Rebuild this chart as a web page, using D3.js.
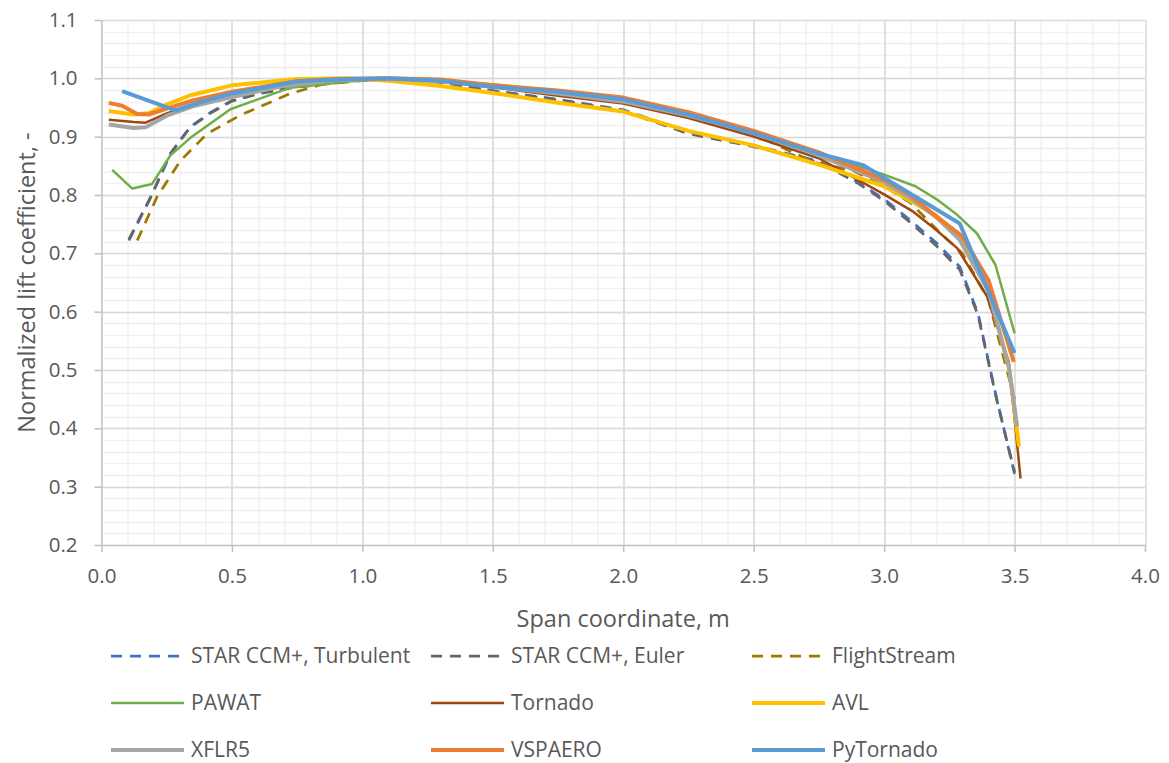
<!DOCTYPE html>
<html>
<head>
<meta charset="utf-8">
<script src="https://cdn.jsdelivr.net/npm/d3@7"></script>
<style>
  body { margin: 0; background: #ffffff; }
  text { font-family: "Open Sans", "Noto Sans", sans-serif; fill: #595959; }
</style>
</head>
<body>
<div id="chart"></div>
<script>
// series names, in drawing order
var seriesNames = ["STAR CCM+, Turbulent", "STAR CCM+, Euler", "FlightStream",
  "PAWAT", "Tornado", "AVL", "XFLR5", "VSPAERO", "PyTornado"];

// span coordinate (m) and normalized lift coefficient per series
var starTurbX = [0.105, 0.19, 0.265, 0.34, 0.42, 0.5, 0.6, 0.72, 0.85, 1.0, 1.15, 1.3, 1.5, 1.75, 2.0, 2.25, 2.5, 2.75, 2.9, 3.0, 3.1, 3.2, 3.29, 3.36, 3.43, 3.5];
var starTurbY = [0.722, 0.797, 0.871, 0.917, 0.942, 0.962, 0.974, 0.984, 0.991, 0.997, 0.998, 0.994, 0.979, 0.964, 0.946, 0.908, 0.885, 0.858, 0.822, 0.793, 0.757, 0.718, 0.677, 0.597, 0.454, 0.322];
var starEulerX = [0.105, 0.19, 0.265, 0.34, 0.42, 0.5, 0.6, 0.72, 0.85, 1.0, 1.15, 1.3, 1.5, 1.75, 2.0, 2.25, 2.5, 2.75, 2.9, 3.0, 3.1, 3.2, 3.29, 3.36, 3.43, 3.5];
var starEulerY = [0.724, 0.798, 0.872, 0.916, 0.941, 0.961, 0.973, 0.983, 0.99, 0.996, 0.997, 0.993, 0.978, 0.963, 0.944, 0.905, 0.883, 0.856, 0.82, 0.79, 0.753, 0.713, 0.672, 0.594, 0.452, 0.325];
var flightX = [0.137, 0.213, 0.303, 0.405, 0.533, 0.724, 0.85, 1.0, 1.2, 1.5, 1.75, 2.0, 2.25, 2.5, 2.73, 2.88, 3.0, 3.1, 3.21, 3.3, 3.4, 3.5];
var flightY = [0.722, 0.797, 0.859, 0.905, 0.937, 0.974, 0.99, 0.997, 0.998, 0.988, 0.975, 0.958, 0.935, 0.905, 0.856, 0.842, 0.815, 0.787, 0.737, 0.7, 0.62, 0.45];
var pawatX = [0.041, 0.118, 0.194, 0.264, 0.341, 0.494, 0.724, 1.0, 1.25, 1.5, 1.75, 2.0, 2.25, 2.5, 2.75, 3.0, 3.12, 3.2, 3.28, 3.356, 3.427, 3.5];
var pawatY = [0.843, 0.811, 0.819, 0.868, 0.898, 0.947, 0.984, 0.997, 0.997, 0.99, 0.978, 0.963, 0.94, 0.908, 0.872, 0.835, 0.815, 0.793, 0.766, 0.734, 0.68, 0.563];
var tornadoX = [0.028, 0.124, 0.169, 0.25, 0.35, 0.5, 0.7, 0.9, 1.1, 1.3, 1.5, 1.75, 2.0, 2.25, 2.5, 2.75, 3.0, 3.113, 3.2, 3.28, 3.395, 3.478, 3.523];
var tornadoY = [0.929, 0.925, 0.924, 0.94, 0.955, 0.972, 0.99, 0.997, 0.999, 0.995, 0.985, 0.97, 0.957, 0.932, 0.9, 0.863, 0.801, 0.771, 0.74, 0.709, 0.626, 0.514, 0.314];
var avlX = [0.028, 0.124, 0.18, 0.25, 0.341, 0.5, 0.75, 0.95, 1.1, 1.3, 1.5, 1.75, 2.0, 2.25, 2.5, 2.75, 3.0, 3.1, 3.2, 3.29, 3.4, 3.48, 3.517];
var avlY = [0.944, 0.938, 0.94, 0.955, 0.971, 0.988, 0.999, 1.0, 0.996, 0.987, 0.975, 0.958, 0.943, 0.91, 0.885, 0.852, 0.815, 0.79, 0.765, 0.729, 0.64, 0.5, 0.369];
var xflrX = [0.028, 0.124, 0.169, 0.25, 0.35, 0.5, 0.7, 0.9, 1.1, 1.3, 1.5, 1.75, 2.0, 2.25, 2.5, 2.75, 3.0, 3.1, 3.2, 3.29, 3.4, 3.478, 3.51];
var xflrY = [0.921, 0.915, 0.916, 0.936, 0.952, 0.968, 0.987, 0.997, 0.999, 0.995, 0.986, 0.974, 0.96, 0.936, 0.906, 0.868, 0.822, 0.795, 0.762, 0.723, 0.635, 0.506, 0.403];
var vspaeroX = [0.028, 0.079, 0.137, 0.181, 0.25, 0.35, 0.5, 0.75, 0.9, 1.1, 1.3, 1.5, 1.75, 2.0, 2.25, 2.5, 2.75, 3.0, 3.1, 3.2, 3.3, 3.4, 3.497];
var vspaeroY = [0.958, 0.953, 0.939, 0.938, 0.948, 0.962, 0.977, 0.995, 0.999, 1.0, 0.998, 0.988, 0.979, 0.967, 0.942, 0.91, 0.873, 0.826, 0.8, 0.763, 0.729, 0.654, 0.514];
var pyTornadoX = [0.079, 0.283, 0.4, 0.5, 0.75, 0.95, 1.1, 1.3, 1.5, 1.75, 2.0, 2.25, 2.5, 2.75, 2.92, 3.29, 3.5];
var pyTornadoY = [0.978, 0.945, 0.962, 0.974, 0.995, 0.999, 1.0, 0.996, 0.985, 0.977, 0.964, 0.938, 0.906, 0.871, 0.851, 0.751, 0.529];

// axis ticks
var xTicks = [0, 0.5, 1.0, 1.5, 2.0, 2.5, 3.0, 3.5, 4.0];
var yTicks = [0.2, 0.3, 0.4, 0.5, 0.6, 0.7, 0.8, 0.9, 1.0, 1.1];

var allX = [starTurbX, starEulerX, flightX, pawatX, tornadoX, avlX, xflrX, vspaeroX, pyTornadoX];
var allY = [starTurbY, starEulerY, flightY, pawatY, tornadoY, avlY, xflrY, vspaeroY, pyTornadoY];

// line styles per series
var styles = [
  { color: "#4472C4", width: 2.75, dash: "11,8" },
  { color: "#666666", width: 2.75, dash: "11,8" },
  { color: "#A07800", width: 2.75, dash: "11,8" },
  { color: "#70AD47", width: 2.5, dash: null },
  { color: "#9E480E", width: 2.5, dash: null },
  { color: "#FFC000", width: 4, dash: null },
  { color: "#A5A5A5", width: 4, dash: null },
  { color: "#ED7D31", width: 4, dash: null },
  { color: "#5B9BD5", width: 4, dash: null }
];

var svgWidth = 1169;
var svgHeight = 763;

var margin = { top: 20, right: 24, bottom: 218, left: 101.5 };
var width = svgWidth - margin.left - margin.right;
var height = svgHeight - margin.top - margin.bottom;

var svg = d3.select("#chart")
  .append("svg")
  .attr("width", svgWidth)
  .attr("height", svgHeight);

var chartGroup = svg.append("g")
  .attr("transform", `translate(${margin.left}, ${margin.top})`);

var xScale = d3.scaleLinear().domain([0, 4]).range([0, width]);
var yScale = d3.scaleLinear().domain([0.2, 1.1]).range([height, 0]);

// minor gridlines
chartGroup.append("g")
  .selectAll("line")
  .data(d3.range(1, 40).map(d => d / 10))
  .enter()
  .append("line")
  .attr("x1", d => Math.round(xScale(d)) + 0.5)
  .attr("x2", d => Math.round(xScale(d)) + 0.5)
  .attr("y1", 0)
  .attr("y2", height)
  .attr("stroke", "#f0f0f0")
  .attr("stroke-width", 1.3);

chartGroup.append("g")
  .selectAll("line")
  .data(d3.range(11, 55).map(d => d / 50))
  .enter()
  .append("line")
  .attr("x1", 0)
  .attr("x2", width)
  .attr("y1", d => Math.round(yScale(d)) + 0.5)
  .attr("y2", d => Math.round(yScale(d)) + 0.5)
  .attr("stroke", "#f0f0f0")
  .attr("stroke-width", 1.3);

// major gridlines
chartGroup.append("g")
  .selectAll("line")
  .data(xTicks.slice(1))
  .enter()
  .append("line")
  .attr("x1", d => Math.round(xScale(d)) + 0.5)
  .attr("x2", d => Math.round(xScale(d)) + 0.5)
  .attr("y1", 0)
  .attr("y2", height)
  .attr("stroke", "#d9d9d9")
  .attr("stroke-width", 1.5);

chartGroup.append("g")
  .selectAll("line")
  .data(yTicks.slice(1))
  .enter()
  .append("line")
  .attr("x1", 0)
  .attr("x2", width)
  .attr("y1", d => Math.round(yScale(d)) + 0.5)
  .attr("y2", d => Math.round(yScale(d)) + 0.5)
  .attr("stroke", "#d9d9d9")
  .attr("stroke-width", 1.5);

// axes
var bottomAxis = d3.axisBottom(xScale)
  .tickValues(xTicks)
  .tickFormat(d3.format(".1f"))
  .tickSize(7)
  .tickSizeOuter(0)
  .tickPadding(16);

var leftAxis = d3.axisLeft(yScale)
  .tickValues(yTicks)
  .tickFormat(d3.format(".1f"))
  .tickSize(7)
  .tickSizeOuter(0)
  .tickPadding(17);

var xAxis = chartGroup.append("g")
  .attr("transform", `translate(0, ${height})`)
  .call(bottomAxis);

var yAxis = chartGroup.append("g")
  .call(leftAxis);

[xAxis, yAxis].forEach(function(ax) {
  ax.selectAll("path, line").attr("stroke", "#bfbfbf").attr("stroke-width", 1.5);
  ax.selectAll("text")
    .attr("fill", "#595959")
    .style("font-size", "20.5px")
    .style("font-family", "\"Open Sans\", sans-serif");
});

// series lines
var lineGen = d3.line()
  .x(d => xScale(d[0]))
  .y(d => yScale(d[1]));

seriesNames.forEach(function(name, i) {
  var pts = allX[i].map((x, j) => [x, allY[i][j]]);
  chartGroup.append("path")
    .datum(pts)
    .attr("fill", "none")
    .attr("stroke", styles[i].color)
    .attr("stroke-width", styles[i].width)
    .attr("stroke-dasharray", styles[i].dash)
    .attr("stroke-linejoin", "round")
    .attr("d", lineGen);
});

// axis titles
svg.append("text")
  .attr("x", margin.left + width / 2)
  .attr("y", 627)
  .attr("text-anchor", "middle")
  .style("font-size", "23.5px")
  .text("Span coordinate, m");

svg.append("text")
  .attr("transform", `translate(35, ${margin.top + height / 2}) rotate(-90)`)
  .attr("text-anchor", "middle")
  .style("font-size", "23.5px")
  .text("Normalized lift coefficient, -");

// legend, three columns
var legendCols = [111, 431, 752];
var legendRows = [656, 703, 750];

var legend = svg.append("g");
seriesNames.forEach(function(name, i) {
  var lx = legendCols[i % 3];
  var ly = legendRows[Math.floor(i / 3)];
  legend.append("line")
    .attr("x1", lx)
    .attr("x2", lx + 73)
    .attr("y1", ly)
    .attr("y2", ly)
    .attr("stroke", styles[i].color)
    .attr("stroke-width", styles[i].width)
    .attr("stroke-dasharray", styles[i].dash);
  legend.append("text")
    .attr("x", lx + 80)
    .attr("y", ly)
    .attr("dy", "0.35em")
    .style("font-size", "21px")
    .text(name);
});
</script>
</body>
</html>
